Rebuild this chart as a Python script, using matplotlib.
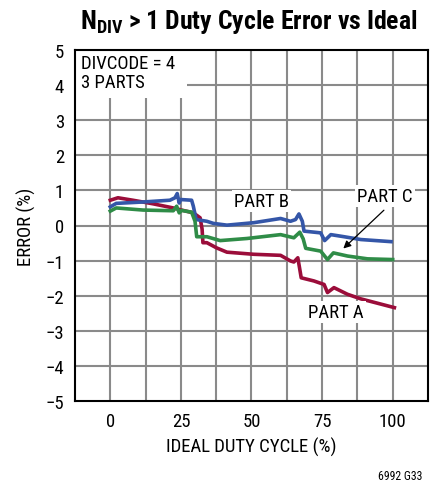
import matplotlib
matplotlib.use("Agg")
import matplotlib.pyplot as plt
from matplotlib.patches import Rectangle
from matplotlib import font_manager

names = {f.name for f in font_manager.fontManager.ttflist}
fam = [n for n in ["Liberation Sans Narrow", "Roboto Condensed", "Liberation Sans", "DejaVu Sans"] if n in names]
plt.rcParams['font.family'] = fam
plt.rcParams['mathtext.fontset'] = 'custom'
plt.rcParams['mathtext.rm'] = fam[0]
plt.rcParams['mathtext.bf'] = fam[0] + ':bold'

# Part A (red)
a_x = [0, 2.7, 8, 15, 22.3, 24.7, 29.4, 31.8, 32.5, 32.8, 34.2, 37.7, 41.3, 50.8, 60.3, 63.8, 65, 66.4, 67.0, 67.6, 72.1, 75.7, 76.9, 79.2, 84, 88.7, 100.6]
a_y = [0.72, 0.79, 0.72, 0.62, 0.50, 0.45, 0.36, 0.22, -0.10, -0.49, -0.49, -0.64, -0.76, -0.82, -0.85, -1.01, -1.04, -0.92, -1.2, -1.49, -1.58, -1.68, -1.91, -1.77, -1.96, -2.09, -2.34]
# Part B (blue)
b_x = [0, 2.1, 11.6, 21.1, 22.9, 23.7, 24.4, 24.9, 28.8, 29.4, 30.4, 34.2, 36.5, 41.3, 50.8, 60.3, 63.8, 65.6, 66.8, 68, 68.6, 74.5, 75.9, 78.1, 82.8, 88.7, 99.4]
b_y = [0.53, 0.63, 0.67, 0.72, 0.79, 0.91, 0.64, 0.74, 0.72, 0.55, 0.17, 0.12, 0.06, 0.01, 0.08, 0.20, 0.12, 0.17, 0.33, 0.12, -0.16, -0.21, -0.43, -0.26, -0.32, -0.40, -0.46]
# Part C (green)
c_x = [0, 2.1, 11.6, 22.3, 23.5, 24.4, 25.2, 28.8, 30, 30.6, 34.2, 38.9, 48.4, 60.3, 65, 67.1, 68.3, 69.2, 74.5, 76.9, 79, 84, 91.1, 100]
c_y = [0.41, 0.50, 0.44, 0.42, 0.55, 0.36, 0.43, 0.38, 0.12, -0.32, -0.32, -0.43, -0.37, -0.26, -0.35, -0.19, -0.38, -0.65, -0.73, -0.97, -0.78, -0.87, -0.95, -0.97]

x_ticks = [0, 25, 50, 75, 100]
y_ticks = [5, 4, 3, 2, 1, 0, -1, -2, -3, -4, -5]
y_tick_labels = ["5", "4", "3", "2", "1", "0", "\u22121", "\u22122", "\u22123", "\u22124", "\u22125"]

FS = 13.5

fig = plt.figure(figsize=(4.35, 4.85), dpi=100)
ax = fig.add_axes([75/435, 1-402/485, (428-75)/435, (402-51)/485])
ax.set_xlim(-12.5, 112.5)
ax.set_ylim(-5, 5)

for gx in [i*12.5 for i in range(0, 9)]:
    ax.axvline(gx, color="#8a8a8a", lw=1.5, zorder=1)
for gy in range(-4, 5):
    ax.axhline(gy, color="#8a8a8a", lw=1.5, zorder=1)

ax.add_patch(Rectangle((-12.5, 3.62), 39.5, 1.38, facecolor="white", edgecolor="none", zorder=2))
ax.text(-10.2, 4.9, "DIVCODE = 4\n3 PARTS", fontsize=FS, va="top", ha="left", linespacing=1.1, zorder=3)

ax.plot(a_x, a_y, color="#9b0d3a", lw=2.6, zorder=4)
ax.plot(b_x, b_y, color="#3456a8", lw=2.6, zorder=4)
ax.plot(c_x, c_y, color="#2f8c47", lw=2.6, zorder=4)

bbox = dict(facecolor="white", edgecolor="none", pad=1.5)
ax.text(53.5, 0.69, "PART B", fontsize=FS, ha="center", va="center", bbox=bbox, zorder=5)
ax.text(97.3, 0.83, "PART C", fontsize=FS, ha="center", va="center", bbox=bbox, zorder=5)
ax.text(79.8, -2.46, "PART A", fontsize=FS, ha="center", va="center", bbox=bbox, zorder=5)
ax.annotate("", xy=(81.8, -0.71), xytext=(97.6, 0.49),
            arrowprops=dict(arrowstyle="-|>", color="black", lw=0.9, mutation_scale=11), zorder=6)

ax.set_xticks(x_ticks)
ax.set_xticklabels([str(v) for v in x_ticks])
ax.set_yticks(y_ticks)
ax.set_yticklabels(y_tick_labels)
ax.tick_params(length=0, labelsize=FS, pad=8)
for s in ax.spines.values():
    s.set_linewidth(1.5)
    s.set_color("black")
    s.set_zorder(7)

ax.set_xlabel("IDEAL DUTY CYCLE (%)", fontsize=FS, labelpad=5)
ax.set_ylabel("ERROR (%)", fontsize=FS, labelpad=7)

fig.text(0.573, 0.955, r"$\mathbf{N_{DIV}}$ > 1 Duty Cycle Error vs Ideal", ha="center", va="center",
         fontsize=18.5, fontweight="bold")
fig.text(0.972, 0.018, "6992 G33", ha="right", va="center", fontsize=8.5)

fig.savefig("out.png", dpi=100)
